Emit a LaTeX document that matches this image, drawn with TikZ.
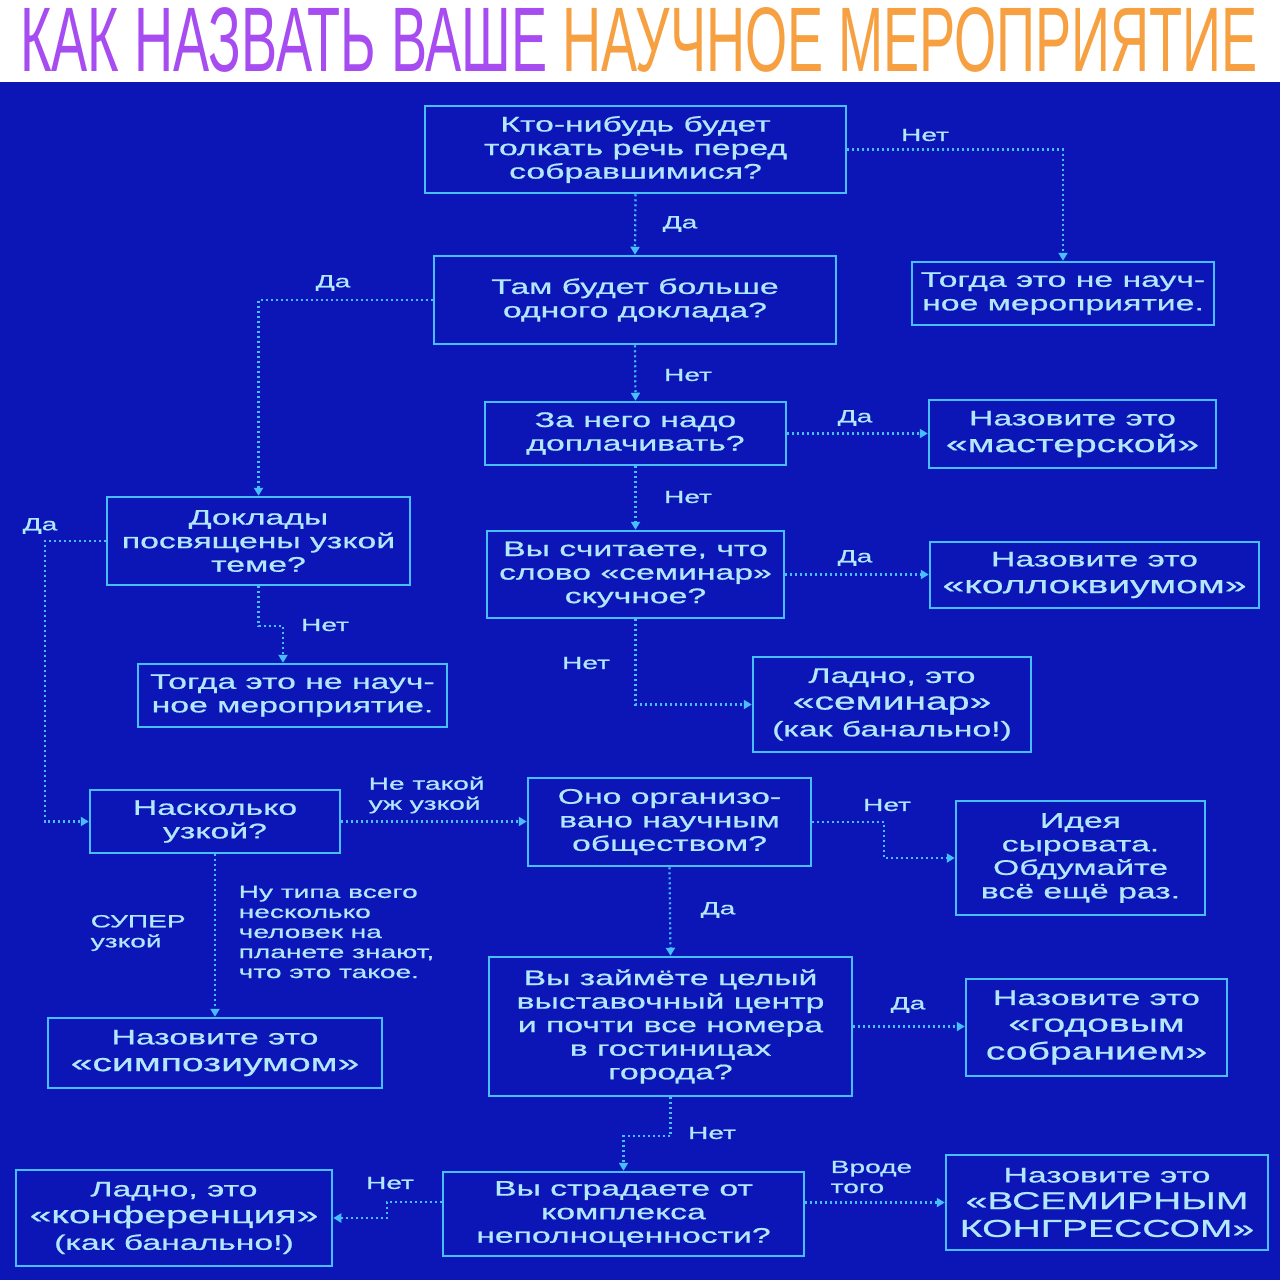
\documentclass[tikz,border=0pt]{standalone}
\usepackage{fontspec}
\usepackage{graphicx}
\usetikzlibrary{arrows.meta,calc,positioning}
\newfontfamily\boxfont[FakeStretch=1.6,FakeBold=0.8]{Liberation Sans}
\newfontfamily\titlefont{Liberation Sans}
\definecolor{bgblue}{RGB}{12,22,182}
\definecolor{linecyan}{RGB}{70,190,255}
\definecolor{txtcyan}{RGB}{178,232,255}
\definecolor{tpurple}{RGB}{166,76,240}
\definecolor{torange}{RGB}{246,160,66}
\newcommand{\qfont}{\boxfont\fontsize{6.0}{6.7}\selectfont}
\newcommand{\bigfont}{\boxfont\fontsize{6.95}{8}\selectfont}
\newcommand{\lblfont}{\boxfont\fontsize{5}{5.7}\selectfont}

\begin{document}
\begin{tikzpicture}[x=0.1mm,y=-0.1mm,
  qbox/.style={draw=linecyan,line width=0.25mm,text=txtcyan,font=\qfont,align=center,inner sep=0pt},
  lbl/.style={text=txtcyan,font=\lblfont,inner sep=0pt},
  conn/.style={linecyan,line width=0.22mm,dash pattern=on 0.2mm off 0.3mm,-{Triangle[length=0.8mm,width=0.9mm]}}]
  \useasboundingbox (0,0) rectangle (1280,1280);
  \fill[white] (0,0) rectangle (1280,82);
  \fill[bgblue] (0,82) rectangle (1280,1280);
  \node[inner sep=0pt] (title) at (639,40)
     {\resizebox{123.8mm}{6.4mm}{\titlefont\color{tpurple}КАК НАЗВАТЬ ВАШЕ \color{torange}НАУЧНОЕ МЕРОПРИЯТИЕ}};
  % questions and answers
  \node[qbox,minimum width=42.1mm,minimum height=8.7mm] (speech) at (635.5,149.5) {Кто-нибудь будет\\толкать речь перед\\собравшимися?};
  \node[qbox,minimum width=30.2mm,minimum height=6.3mm] (notsci1) at (1063,293.5) {Тогда это не науч-\\ное мероприятие.};
  \node[qbox,minimum width=40.2mm,minimum height=8.8mm] (talks) at (635,300) {Там будет больше\\одного доклада?};
  \node[qbox,minimum width=30.1mm,minimum height=6.3mm] (fee) at (635.5,433.5) {За него надо\\доплачивать?};
  \node[qbox,minimum width=28.7mm,minimum height=6.8mm] (workshop) at (1072.5,434) {Назовите это\\[0.9pt]{\bigfont «мастерской»}};
  \node[qbox,minimum width=30.3mm,minimum height=8.8mm] (narrow) at (258.5,541) {Доклады\\посвящены узкой\\теме?};
  \node[qbox,minimum width=29.7mm,minimum height=8.7mm] (boring) at (635.5,574.5) {Вы считаете, что\\слово «семинар»\\скучное?};
  \node[qbox,minimum width=32.9mm,minimum height=6.6mm] (colloq) at (1094.5,575) {Назовите это\\[0.9pt]{\bigfont «коллоквиумом»}};
  \node[qbox,minimum width=30.9mm,minimum height=6.3mm] (notsci2) at (292.5,695.5) {Тогда это не науч-\\ное мероприятие.};
  \node[qbox,minimum width=27.8mm,minimum height=9.5mm] (seminar) at (892,704.5) {Ладно, это\\[0.9pt]{\bigfont «семинар»}\\[0.9pt](как банально!)};
  \node[qbox,minimum width=25mm,minimum height=6.3mm] (howmuch) at (215,821.5) {Насколько\\узкой?};
  \node[qbox,minimum width=28.3mm,minimum height=8.8mm] (society) at (669.5,822) {Оно организо-\\вано научным\\обществом?};
  \node[qbox,minimum width=24.9mm,minimum height=11.4mm] (idea) at (1080.5,858) {Идея\\сыровата.\\Обдумайте\\всё ещё раз.};
  \node[qbox,minimum width=33.4mm,minimum height=7mm] (symp) at (215,1053) {Назовите это\\[0.9pt]{\bigfont «симпозиумом»}};
  \node[qbox,minimum width=36.3mm,minimum height=13.9mm] (expo) at (670.5,1026.5) {Вы займёте целый\\выставочный центр\\и почти все номера\\в гостиницах\\города?};
  \node[qbox,minimum width=26.1mm,minimum height=9.7mm] (annual) at (1096.5,1027.5) {Назовите это\\[0.9pt]{\bigfont «годовым}\\[1.2pt]{\bigfont собранием»}};
  \node[qbox,minimum width=36.1mm,minimum height=8.4mm] (complex) at (623.5,1214) {Вы страдаете от\\комплекса\\неполноценности?};
  \node[qbox,minimum width=31.6mm,minimum height=9.6mm] (conf) at (174,1218) {Ладно, это\\[0.9pt]{\bigfont «конференция»}\\[0.9pt](как банально!)};
  \node[qbox,minimum width=32.2mm,minimum height=9.5mm] (congress) at (1107,1202.5) {Назовите это\\[0.9pt]{\bigfont «ВСЕМИРНЫМ}\\[1.2pt]{\bigfont КОНГРЕССОМ»}};
  % dotted connectors
  \draw[conn] (speech.south) -- (talks.north);
  \draw[conn] (speech.east) -| (notsci1.north);
  \draw[conn] (talks.west) -| (narrow.north);
  \draw[conn] (talks.south) -- (fee.north);
  \draw[conn] (fee.east) -- (fee.east -| workshop.west);
  \draw[conn] (fee.south) -- (boring.north);
  \draw[conn] (boring.east) -- (boring.east -| colloq.west);
  \draw[conn] (boring.south) |- (seminar.west);
  \draw[conn] (narrow.west) -- ++(-61,0) |- (howmuch.west);
  \draw[conn] (narrow.south) -- ++(0,40) -| ([xshift=-0.95mm]notsci2.north);
  \draw[conn] (howmuch.east) -- (howmuch.east -| society.west);
  \draw[conn] (howmuch.south) -- (symp.north);
  \draw[conn] (society.east) -- ++(72,0) |- (idea.west);
  \draw[conn] (society.south) -- (expo.north);
  \draw[conn] (expo.east) -- (expo.east -| annual.west);
  \draw[conn] (expo.south) -- ++(0,39) -| (complex.north);
  \draw[conn] ([yshift=1.2mm]complex.west) -- ++(-55,0) |- (conf.east);
  \draw[conn] (complex.east |- congress.west) -- (congress.west);
  \foreach \n/\px/\py/\t in {1/680/224/Да, 2/925/135/Нет, 3/333/283/Да, 4/688/375/Нет,
      5/855/418/Да, 6/688/497/Нет, 7/855/558/Да, 8/586/663/Нет, 9/40/526/Да,
      10/325/625/Нет, 14/887/805/Нет, 15/718/910/Да, 16/908/1005/Да,
      17/712/1133/Нет, 18/390/1183/Нет}
    \node[lbl] (lab\n) at (\px,\py) {\t};
  \node[lbl,align=left,anchor=west] (lab11) at (368,795) {Не такой\\уж узкой};
  \node[lbl,align=left,anchor=west] (lab12) at (90,933) {СУПЕР\\узкой};
  \node[lbl,align=left,anchor=west] (lab13) at (238,932) {Ну типа всего\\несколько\\человек на\\планете знают,\\что это такое.};
  \node[lbl,align=left,anchor=west] (lab19) at (830,1177) {Вроде\\того};
\end{tikzpicture}
\end{document}
